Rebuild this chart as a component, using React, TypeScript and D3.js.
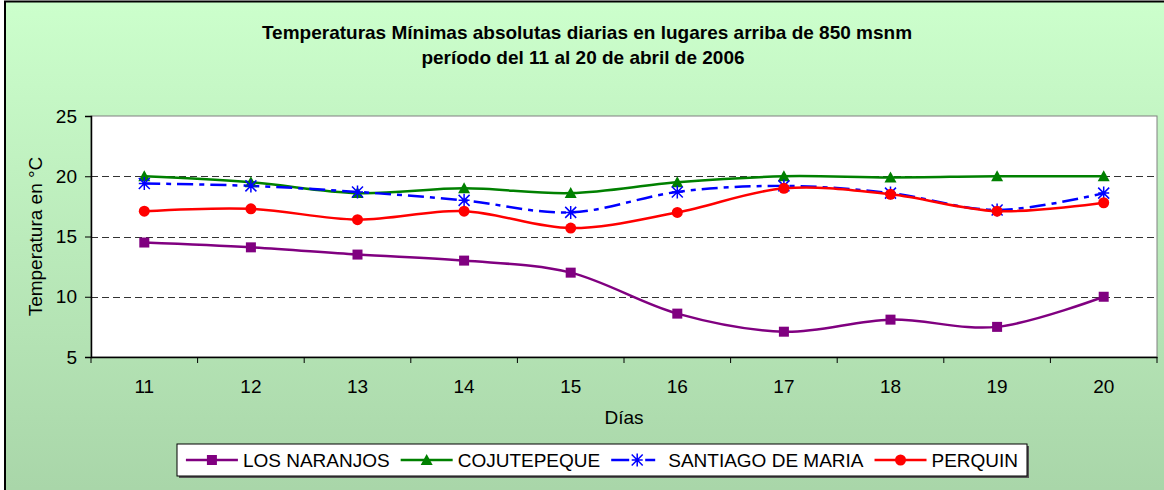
import React, { useEffect, useRef } from 'react';
import * as d3 from 'd3';

const days = ['11', '12', '13', '14', '15', '16', '17', '18', '19', '20'];
const losNaranjos = [14.5, 14.1, 13.5, 13.0, 12.0, 8.6, 7.1, 8.1, 7.5, 10.0];
const cojutepeque = [20.0, 19.5, 18.6, 19.0, 18.6, 19.5, 20.0, 19.9, 20.0, 20.0];
const santiagoDeMaria = [19.4, 19.2, 18.7, 18.0, 17.0, 18.7, 19.2, 18.6, 17.2, 18.6];
const perquin = [17.1, 17.3, 16.4, 17.1, 15.7, 17.0, 19.0, 18.5, 17.1, 17.8];
const yTicks = [5, 10, 15, 20, 25];
const gridValues = [10, 15, 20];

const series = [
  { name: 'LOS NARANJOS', values: losNaranjos, color: '#800080', marker: 'square', dash: null },
  { name: 'COJUTEPEQUE', values: cojutepeque, color: '#008000', marker: 'triangle', dash: null },
  { name: 'SANTIAGO DE MARIA', values: santiagoDeMaria, color: '#0000ff', marker: 'star', dash: '16,6,5,6' },
  { name: 'PERQUIN', values: perquin, color: '#ff0000', marker: 'circle', dash: null },
];

const FONT = '"Liberation Sans", Arial, sans-serif';

function drawMarker(g: any, type: string, cx: number, cy: number, color: string) {
  if (type === 'square') {
    g.append('rect').attr('x', cx - 5).attr('y', cy - 5).attr('width', 10).attr('height', 10).attr('fill', color);
  } else if (type === 'triangle') {
    g.append('path').attr('d', `M${cx},${cy - 6}L${cx + 6},${cy + 5}L${cx - 6},${cy + 5}Z`).attr('fill', color);
  } else if (type === 'circle') {
    g.append('circle').attr('cx', cx).attr('cy', cy).attr('r', 5.5).attr('fill', color);
  } else {
    const s = 5.5;
    g.append('path')
      .attr('d', `M${cx - s},${cy - s}L${cx + s},${cy + s}M${cx - s},${cy + s}L${cx + s},${cy - s}M${cx},${cy - s - 1}L${cx},${cy + s + 1}M${cx - s},${cy}L${cx + s},${cy}`)
      .attr('stroke', color)
      .attr('stroke-width', 1.5)
      .attr('fill', 'none');
  }
}

export default function App() {
  const ref = useRef<SVGSVGElement>(null);

  useEffect(() => {
    const svg = d3.select(ref.current);
    svg.selectAll('*').remove();

    const width = 1164;
    const height = 490;
    const plot = { left: 91, right: 1157, top: 116, bottom: 357 };

    const defs = svg.append('defs');
    const grad = defs.append('linearGradient').attr('id', 'bg').attr('x1', 0).attr('y1', 0).attr('x2', 0).attr('y2', 1);
    grad.append('stop').attr('offset', '0%').attr('stop-color', '#ccffcc');
    grad.append('stop').attr('offset', '100%').attr('stop-color', '#a8d5a8');

    svg.append('rect')
      .attr('x', 5).attr('y', 1.5).attr('width', width + 10).attr('height', height + 10)
      .attr('fill', 'url(#bg)').attr('stroke', '#000').attr('stroke-width', 2);

    // title
    const title = svg.append('g').attr('font-family', FONT).attr('font-weight', 'bold').attr('font-size', 19).attr('fill', '#000').attr('text-anchor', 'middle');
    title.append('text').attr('x', 587).attr('y', 39).text('Temperaturas Mínimas absolutas diarias en lugares arriba de 850 msnm');
    title.append('text').attr('x', 583).attr('y', 64).text('período del 11 al 20 de abril de 2006');

    const x = d3.scaleBand().domain(days).range([plot.left, plot.right]);
    const y = d3.scaleLinear().domain([5, 25]).range([plot.bottom, plot.top]);
    const cx = (d: string) => (x(d) as number) + x.bandwidth() / 2;

    svg.append('rect')
      .attr('x', plot.left).attr('y', plot.top)
      .attr('width', plot.right - plot.left).attr('height', plot.bottom - plot.top)
      .attr('fill', '#fff').attr('stroke', '#808080').attr('stroke-width', 1);

    svg.append('g').selectAll('line').data(gridValues).enter().append('line')
      .attr('x1', plot.left).attr('x2', plot.right)
      .attr('y1', d => Math.round(y(d)) + 0.5).attr('y2', d => Math.round(y(d)) + 0.5)
      .attr('stroke', '#333').attr('stroke-width', 1).attr('stroke-dasharray', '7,4');

    // axes
    const yAxis = svg.append('g').attr('transform', `translate(${plot.left},0)`)
      .call(d3.axisLeft(y).tickValues(yTicks).tickSize(6).tickPadding(8));
    yAxis.select('.domain').attr('stroke', '#000').attr('stroke-width', 1.5);
    yAxis.selectAll('text').attr('font-family', FONT).attr('font-size', 19).attr('fill', '#000');

    const xAxis = svg.append('g').attr('transform', `translate(0,${plot.bottom})`)
      .call(d3.axisBottom(x).tickSize(0).tickPadding(23));
    xAxis.select('.domain').attr('stroke', '#000').attr('stroke-width', 1.5);
    xAxis.selectAll('text').attr('font-family', FONT).attr('font-size', 19).attr('fill', '#000');
    const bounds = days.map(d => x(d) as number).concat([plot.right]);
    xAxis.selectAll('line.bound').data(bounds).enter().append('line')
      .attr('class', 'bound')
      .attr('x1', d => d).attr('x2', d => d).attr('y1', 0).attr('y2', 6)
      .attr('stroke', '#000');

    svg.append('text')
      .attr('transform', `translate(42,${(plot.top + plot.bottom) / 2}) rotate(-90)`)
      .attr('text-anchor', 'middle').attr('font-family', FONT).attr('font-size', 19)
      .text('Temperatura en °C');
    svg.append('text')
      .attr('x', 624).attr('y', 424)
      .attr('text-anchor', 'middle').attr('font-family', FONT).attr('font-size', 19)
      .text('Días');

    // lines
    const line = d3.line<number>()
      .x((_, i) => cx(days[i]))
      .y(d => y(d))
      .curve(d3.curveCatmullRom.alpha(0));

    series.forEach(s => {
      svg.append('path')
        .attr('d', line(s.values))
        .attr('fill', 'none')
        .attr('stroke', s.color)
        .attr('stroke-width', 2.5)
        .attr('stroke-dasharray', s.dash);
    });
    series.forEach(s => {
      const mg = svg.append('g');
      s.values.forEach((v, i) => drawMarker(mg, s.marker, cx(days[i]), y(v), s.color));
    });

    // legend
    const legend = svg.append('g');
    const shadow = legend.append('rect').attr('fill', '#555');
    const box = legend.append('rect').attr('fill', '#fff').attr('stroke', '#000').attr('stroke-width', 1);
    const items = legend.append('g');
    let pos = 0;
    const lineLen = 52;
    const itemGap = 11;
    series.forEach(s => {
      const it = items.append('g').attr('transform', `translate(${pos},0)`);
      it.append('line').attr('x1', 0).attr('x2', lineLen).attr('y1', 0).attr('y2', 0)
        .attr('stroke', s.color).attr('stroke-width', 2.5)
        .attr('stroke-dasharray', s.dash ? '18,16,10' : null);
      drawMarker(it, s.marker, lineLen / 2, 0, s.color);
      const t = it.append('text').attr('x', lineLen + 5).attr('y', 7)
        .attr('font-family', FONT).attr('font-size', 19).text(s.name);
      const w = (t.node() as SVGTextElement).getComputedTextLength();
      pos += lineLen + 5 + w + itemGap;
    });
    const totalW = pos - itemGap;
    const bx = 177, by = 444, bw = 850, bh = 32;
    items.attr('transform', `translate(${bx + (bw - totalW) / 2},${by + bh / 2})`);
    box.attr('x', bx).attr('y', by).attr('width', bw).attr('height', bh);
    shadow.attr('x', bx + 2).attr('y', by + 2).attr('width', bw).attr('height', bh);
  }, []);

  return (
    <svg ref={ref} width={1164} height={490}
      style={{ position: 'absolute', left: 0, top: 0, display: 'block' }} />
  );
}
